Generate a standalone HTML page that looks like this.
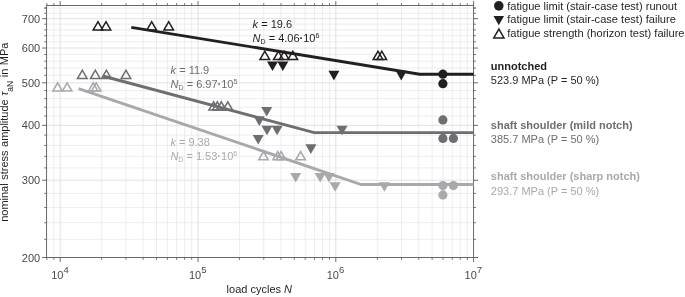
<!DOCTYPE html>
<html><head><meta charset="utf-8"><title>S-N curves</title>
<style>html,body{margin:0;padding:0;background:#fff}svg{display:block}</style></head>
<body>
<svg width="685" height="297" viewBox="0 0 685 297" font-family="'Liberation Sans', Arial, sans-serif" font-size="11">
<rect width="685" height="297" fill="#fff"/>
<path d="M53.89 5.5V257.5M101.68 5.5V257.5M125.95 5.5V257.5M143.16 5.5V257.5M156.52 5.5V257.5M167.43 5.5V257.5M176.65 5.5V257.5M184.65 5.5V257.5M191.69 5.5V257.5M239.48 5.5V257.5M263.75 5.5V257.5M280.96 5.5V257.5M294.32 5.5V257.5M305.23 5.5V257.5M314.45 5.5V257.5M322.45 5.5V257.5M329.49 5.5V257.5M377.28 5.5V257.5M401.55 5.5V257.5M418.76 5.5V257.5M432.12 5.5V257.5M443.03 5.5V257.5M452.25 5.5V257.5M460.25 5.5V257.5M467.29 5.5V257.5M46.6 239.33H473.6M46.6 222.74H473.6M46.6 207.48H473.6M46.6 193.35H473.6M46.6 167.89H473.6M46.6 156.33H473.6M46.6 145.44H473.6M46.6 135.13H473.6M46.6 116.05H473.6M46.6 107.18H473.6M46.6 98.70H473.6M46.6 90.59H473.6M46.6 75.33H473.6M46.6 68.13H473.6M46.6 61.20H473.6M46.6 54.51H473.6M46.6 41.79H473.6M46.6 35.74H473.6M46.6 29.87H473.6M46.6 24.18H473.6M46.6 13.28H473.6M46.6 8.06H473.6" stroke="#e6e7e8" stroke-width="0.75" fill="none"/>
<path d="M60.20 5.5V257.5M198.00 5.5V257.5M335.80 5.5V257.5M46.6 180.20H473.6M46.6 125.35H473.6M46.6 82.80H473.6M46.6 48.04H473.6M46.6 18.65H473.6" stroke="#d9dadc" stroke-width="0.8" fill="none"/>
<path d="M53.89 5.5v-2.3M53.89 257.5v2.3M101.68 5.5v-2.3M101.68 257.5v2.3M125.95 5.5v-2.3M125.95 257.5v2.3M143.16 5.5v-2.3M143.16 257.5v2.3M156.52 5.5v-2.3M156.52 257.5v2.3M167.43 5.5v-2.3M167.43 257.5v2.3M176.65 5.5v-2.3M176.65 257.5v2.3M184.65 5.5v-2.3M184.65 257.5v2.3M191.69 5.5v-2.3M191.69 257.5v2.3M239.48 5.5v-2.3M239.48 257.5v2.3M263.75 5.5v-2.3M263.75 257.5v2.3M280.96 5.5v-2.3M280.96 257.5v2.3M294.32 5.5v-2.3M294.32 257.5v2.3M305.23 5.5v-2.3M305.23 257.5v2.3M314.45 5.5v-2.3M314.45 257.5v2.3M322.45 5.5v-2.3M322.45 257.5v2.3M329.49 5.5v-2.3M329.49 257.5v2.3M377.28 5.5v-2.3M377.28 257.5v2.3M401.55 5.5v-2.3M401.55 257.5v2.3M418.76 5.5v-2.3M418.76 257.5v2.3M432.12 5.5v-2.3M432.12 257.5v2.3M443.03 5.5v-2.3M443.03 257.5v2.3M452.25 5.5v-2.3M452.25 257.5v2.3M460.25 5.5v-2.3M460.25 257.5v2.3M467.29 5.5v-2.3M467.29 257.5v2.3M46.85 5.5v-2.3M46.85 257.5v2.3M46.6 239.33h-2.3M473.6 239.33h2.3M46.6 222.74h-2.3M473.6 222.74h2.3M46.6 207.48h-2.3M473.6 207.48h2.3M46.6 193.35h-2.3M473.6 193.35h2.3M46.6 167.89h-2.3M473.6 167.89h2.3M46.6 156.33h-2.3M473.6 156.33h2.3M46.6 145.44h-2.3M473.6 145.44h2.3M46.6 135.13h-2.3M473.6 135.13h2.3M46.6 116.05h-2.3M473.6 116.05h2.3M46.6 107.18h-2.3M473.6 107.18h2.3M46.6 98.70h-2.3M473.6 98.70h2.3M46.6 90.59h-2.3M473.6 90.59h2.3M46.6 75.33h-2.3M473.6 75.33h2.3M46.6 68.13h-2.3M473.6 68.13h2.3M46.6 61.20h-2.3M473.6 61.20h2.3M46.6 54.51h-2.3M473.6 54.51h2.3M46.6 41.79h-2.3M473.6 41.79h2.3M46.6 35.74h-2.3M473.6 35.74h2.3M46.6 29.87h-2.3M473.6 29.87h2.3M46.6 24.18h-2.3M473.6 24.18h2.3M46.6 13.28h-2.3M473.6 13.28h2.3M46.6 8.06h-2.3M473.6 8.06h2.3M46.6 8.06h-2.3M473.6 8.06h2.3" stroke="#58595b" stroke-width="0.85" fill="none"/>
<path d="M60.20 5.5v-4.4M60.20 257.5v4.4M198.00 5.5v-4.4M198.00 257.5v4.4M335.80 5.5v-4.4M335.80 257.5v4.4M473.60 5.5v-4.4M473.60 257.5v4.4M46.6 180.20h-4.4M473.6 180.20h4.4M46.6 125.35h-4.4M473.6 125.35h4.4M46.6 82.80h-4.4M473.6 82.80h4.4M46.6 48.04h-4.4M473.6 48.04h4.4M46.6 18.65h-4.4M473.6 18.65h4.4M46.6 257.50h-4.4M473.6 257.50h4.4" stroke="#58595b" stroke-width="0.9" fill="none"/>
<rect x="46.6" y="5.5" width="427.0" height="252.0" fill="none" stroke="#58595b" stroke-width="0.9"/>
<path d="M52.85 91.04L57.60 82.82L62.35 91.04Z" fill="none" stroke="#a7a9ac" stroke-width="1.55" stroke-linejoin="miter"/>
<path d="M62.35 91.04L67.10 82.82L71.85 91.04Z" fill="none" stroke="#a7a9ac" stroke-width="1.55" stroke-linejoin="miter"/>
<path d="M88.45 91.04L93.20 82.82L97.95 91.04Z" fill="none" stroke="#a7a9ac" stroke-width="1.55" stroke-linejoin="miter"/>
<path d="M91.45 91.04L96.20 82.82L100.95 91.04Z" fill="none" stroke="#a7a9ac" stroke-width="1.55" stroke-linejoin="miter"/>
<path d="M258.75 159.74L263.50 151.52L268.25 159.74Z" fill="none" stroke="#a7a9ac" stroke-width="1.55" stroke-linejoin="miter"/>
<path d="M272.95 159.74L277.70 151.52L282.45 159.74Z" fill="none" stroke="#a7a9ac" stroke-width="1.55" stroke-linejoin="miter"/>
<path d="M276.35 159.74L281.10 151.52L285.85 159.74Z" fill="none" stroke="#a7a9ac" stroke-width="1.55" stroke-linejoin="miter"/>
<path d="M295.85 159.74L300.60 151.52L305.35 159.74Z" fill="none" stroke="#a7a9ac" stroke-width="1.55" stroke-linejoin="miter"/>
<path d="M290.20 172.95H301.20L295.70 182.48Z" fill="#a7a9ac"/>
<path d="M314.70 172.95H325.70L320.20 182.48Z" fill="#a7a9ac"/>
<path d="M323.50 172.95H334.50L329.00 182.48Z" fill="#a7a9ac"/>
<path d="M329.60 182.25H340.60L335.10 191.78Z" fill="#a7a9ac"/>
<path d="M378.90 182.25H389.90L384.40 191.78Z" fill="#a7a9ac"/>
<circle cx="442.90" cy="185.55" r="4.6" fill="#a7a9ac"/>
<circle cx="453.40" cy="185.55" r="4.6" fill="#a7a9ac"/>
<circle cx="442.90" cy="194.95" r="4.6" fill="#a7a9ac"/>
<path d="M77.55 78.44L82.30 70.22L87.05 78.44Z" fill="none" stroke="#6d6e71" stroke-width="1.55" stroke-linejoin="miter"/>
<path d="M90.55 78.44L95.30 70.22L100.05 78.44Z" fill="none" stroke="#6d6e71" stroke-width="1.55" stroke-linejoin="miter"/>
<path d="M101.65 78.44L106.40 70.22L111.15 78.44Z" fill="none" stroke="#6d6e71" stroke-width="1.55" stroke-linejoin="miter"/>
<path d="M121.25 78.44L126.00 70.22L130.75 78.44Z" fill="none" stroke="#6d6e71" stroke-width="1.55" stroke-linejoin="miter"/>
<path d="M208.85 110.04L213.60 101.82L218.35 110.04Z" fill="none" stroke="#6d6e71" stroke-width="1.55" stroke-linejoin="miter"/>
<path d="M212.55 110.04L217.30 101.82L222.05 110.04Z" fill="none" stroke="#6d6e71" stroke-width="1.55" stroke-linejoin="miter"/>
<path d="M216.55 110.04L221.30 101.82L226.05 110.04Z" fill="none" stroke="#6d6e71" stroke-width="1.55" stroke-linejoin="miter"/>
<path d="M223.05 110.04L227.80 101.82L232.55 110.04Z" fill="none" stroke="#6d6e71" stroke-width="1.55" stroke-linejoin="miter"/>
<path d="M261.20 106.95H272.20L266.70 116.48Z" fill="#6d6e71"/>
<path d="M253.80 116.35H264.80L259.30 125.88Z" fill="#6d6e71"/>
<path d="M261.50 125.75H272.50L267.00 135.28Z" fill="#6d6e71"/>
<path d="M271.60 125.75H282.60L277.10 135.28Z" fill="#6d6e71"/>
<path d="M336.50 125.75H347.50L342.00 135.28Z" fill="#6d6e71"/>
<path d="M252.70 134.95H263.70L258.20 144.48Z" fill="#6d6e71"/>
<path d="M305.40 144.35H316.40L310.90 153.88Z" fill="#6d6e71"/>
<circle cx="442.90" cy="119.95" r="4.6" fill="#6d6e71"/>
<circle cx="442.90" cy="138.45" r="4.6" fill="#6d6e71"/>
<circle cx="453.40" cy="138.45" r="4.6" fill="#6d6e71"/>
<path d="M93.25 29.94L98.00 21.72L102.75 29.94Z" fill="none" stroke="#231f20" stroke-width="1.55" stroke-linejoin="miter"/>
<path d="M101.25 29.94L106.00 21.72L110.75 29.94Z" fill="none" stroke="#231f20" stroke-width="1.55" stroke-linejoin="miter"/>
<path d="M146.95 29.94L151.70 21.72L156.45 29.94Z" fill="none" stroke="#231f20" stroke-width="1.55" stroke-linejoin="miter"/>
<path d="M163.95 29.94L168.70 21.72L173.45 29.94Z" fill="none" stroke="#231f20" stroke-width="1.55" stroke-linejoin="miter"/>
<path d="M260.05 59.44L264.80 51.22L269.55 59.44Z" fill="none" stroke="#231f20" stroke-width="1.55" stroke-linejoin="miter"/>
<path d="M273.65 59.44L278.40 51.22L283.15 59.44Z" fill="none" stroke="#231f20" stroke-width="1.55" stroke-linejoin="miter"/>
<path d="M279.35 59.44L284.10 51.22L288.85 59.44Z" fill="none" stroke="#231f20" stroke-width="1.55" stroke-linejoin="miter"/>
<path d="M288.05 59.44L292.80 51.22L297.55 59.44Z" fill="none" stroke="#231f20" stroke-width="1.55" stroke-linejoin="miter"/>
<path d="M373.25 59.44L378.00 51.22L382.75 59.44Z" fill="none" stroke="#231f20" stroke-width="1.55" stroke-linejoin="miter"/>
<path d="M377.05 59.44L381.80 51.22L386.55 59.44Z" fill="none" stroke="#231f20" stroke-width="1.55" stroke-linejoin="miter"/>
<path d="M267.00 61.55H278.00L272.50 71.08Z" fill="#231f20"/>
<path d="M277.30 61.55H288.30L282.80 71.08Z" fill="#231f20"/>
<path d="M328.40 70.85H339.40L333.90 80.38Z" fill="#231f20"/>
<path d="M395.70 70.85H406.70L401.20 80.38Z" fill="#231f20"/>
<circle cx="442.90" cy="74.15" r="4.6" fill="#231f20"/>
<circle cx="442.90" cy="83.65" r="4.6" fill="#231f20"/>
<path d="M78.60 88.54L361.25 184.54H473.6" fill="none" stroke="#a7a9ac" stroke-width="2.9" stroke-linejoin="miter"/>
<path d="M102.80 75.99L314.20 132.59H473.6" fill="none" stroke="#6d6e71" stroke-width="2.9" stroke-linejoin="miter"/>
<path d="M131.30 27.33L419.65 74.20H473.6" fill="none" stroke="#231f20" stroke-width="2.9" stroke-linejoin="miter"/>
<text x="252.6" y="27.7" fill="#231f20"><tspan font-style="italic">k</tspan> = 19.6</text><text x="252.6" y="41.7" fill="#231f20"><tspan font-style="italic">N</tspan><tspan font-size="7" dy="1.9">D</tspan><tspan dy="-1.9"> = 4.06<tspan font-weight="bold">·</tspan>10</tspan><tspan font-size="7" dy="-3.9">6</tspan></text>
<text x="170.6" y="74.0" fill="#6d6e71"><tspan font-style="italic">k</tspan> = 11.9</text><text x="170.6" y="87.6" fill="#6d6e71"><tspan font-style="italic">N</tspan><tspan font-size="7" dy="1.9">D</tspan><tspan dy="-1.9"> = 6.97<tspan font-weight="bold">·</tspan>10</tspan><tspan font-size="7" dy="-3.9">5</tspan></text>
<text x="170.4" y="145.6" fill="#a7a9ac"><tspan font-style="italic">k</tspan> = 9.38</text><text x="170.4" y="159.6" fill="#a7a9ac"><tspan font-style="italic">N</tspan><tspan font-size="7" dy="1.9">D</tspan><tspan dy="-1.9"> = 1.53<tspan font-weight="bold">·</tspan>10</tspan><tspan font-size="7" dy="-3.9">6</tspan></text>
<text x="40.2" y="261.50" text-anchor="end" fill="#48494b">200</text>
<text x="40.2" y="184.20" text-anchor="end" fill="#48494b">300</text>
<text x="40.2" y="129.35" text-anchor="end" fill="#48494b">400</text>
<text x="40.2" y="86.80" text-anchor="end" fill="#48494b">500</text>
<text x="40.2" y="52.04" text-anchor="end" fill="#48494b">600</text>
<text x="40.2" y="22.65" text-anchor="end" fill="#48494b">700</text>
<text x="59.90" y="278.6" text-anchor="middle" fill="#48494b">10<tspan font-size="9.5" dy="-5.9">4</tspan></text>
<text x="197.70" y="278.6" text-anchor="middle" fill="#48494b">10<tspan font-size="9.5" dy="-5.9">5</tspan></text>
<text x="335.50" y="278.6" text-anchor="middle" fill="#48494b">10<tspan font-size="9.5" dy="-5.9">6</tspan></text>
<text x="473.30" y="278.6" text-anchor="middle" fill="#48494b">10<tspan font-size="9.5" dy="-5.9">7</tspan></text>
<text x="259.3" y="293.3" text-anchor="middle" fill="#231f20">load cycles <tspan font-style="italic">N</tspan></text>
<text transform="translate(8.3 132.2) rotate(-90)" text-anchor="middle" word-spacing="0.45" fill="#231f20">nominal stress amplitude <tspan font-style="italic">τ</tspan><tspan font-size="8.5" dy="4.6">aN</tspan><tspan dy="-4.6"> in MPa</tspan></text>
<circle cx="498.80" cy="5.85" r="4.8" fill="#231f20"/>
<path d="M493.50 15.95H504.10L498.80 25.13Z" fill="#231f20"/>
<path d="M493.80 37.94L498.90 29.11L504.00 37.94Z" fill="none" stroke="#231f20" stroke-width="1.5" stroke-linejoin="miter"/>
<text x="507.2" y="9.6" font-size="11.08" fill="#231f20">fatigue limit (stair-case test) runout</text>
<text x="507.2" y="23.4" font-size="11.08" fill="#231f20">fatigue limit (stair-case test) failure</text>
<text x="507.2" y="37.3" font-size="11.08" fill="#231f20">fatigue strength (horizon test) failure</text>
<text x="490.8" y="69.8" font-weight="bold" fill="#231f20">unnotched</text>
<text x="490.8" y="84.1" fill="#231f20">523.9 MPa (P = 50 %)</text>
<text x="490.8" y="128.6" font-weight="bold" fill="#6d6e71">shaft shoulder (mild notch)</text>
<text x="490.8" y="142.9" fill="#6d6e71">385.7 MPa (P = 50 %)</text>
<text x="490.8" y="180.3" font-weight="bold" fill="#a7a9ac">shaft shoulder (sharp notch)</text>
<text x="490.8" y="194.6" fill="#a7a9ac">293.7 MPa (P = 50 %)</text>
</svg>
</body></html>
